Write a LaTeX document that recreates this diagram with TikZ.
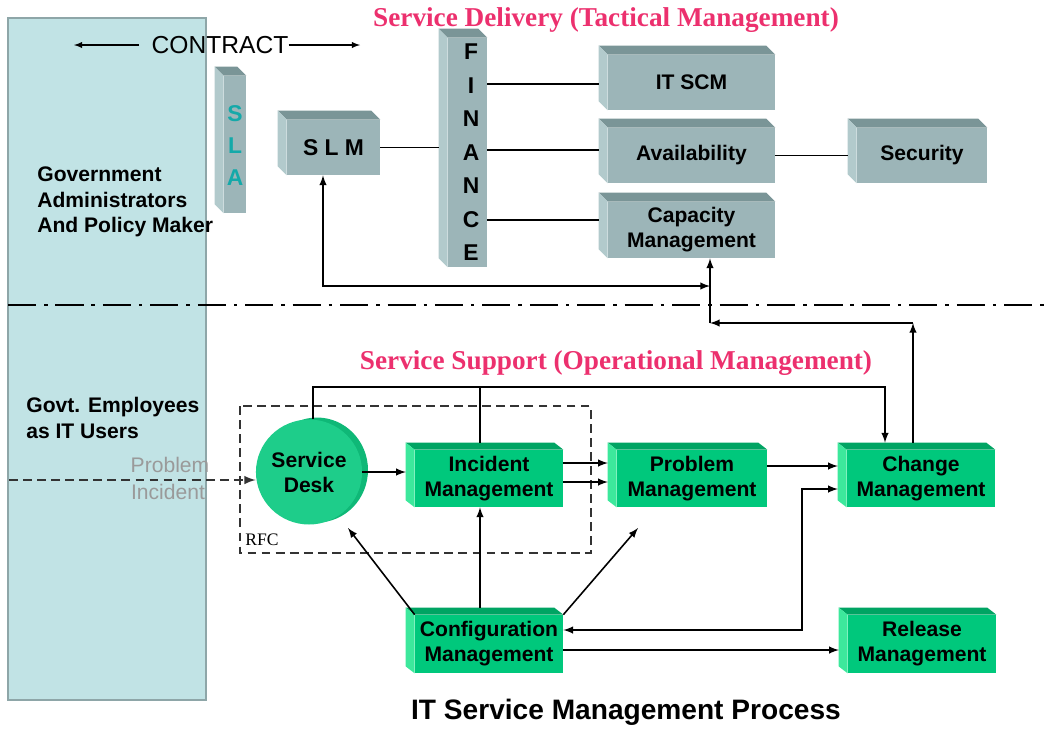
\documentclass[tikz,border=0pt]{standalone}
\usepackage{fontspec}
\setmainfont{Liberation Sans}
\newfontfamily\serifface{Liberation Serif}
\usetikzlibrary{shapes.geometric}
\usetikzlibrary{calc}

\definecolor{panelfill}{HTML}{C1E3E5}
\definecolor{paneledge}{HTML}{8EA6A8}
\definecolor{grayfront}{HTML}{9CB5B8}
\definecolor{graytop}{HTML}{7A9597}
\definecolor{grayside}{HTML}{B2CACC}
\definecolor{greenfront}{HTML}{00C87C}
\definecolor{greentop}{HTML}{00A463}
\definecolor{greenside}{HTML}{3DE89C}
\definecolor{deskfront}{HTML}{1ECD8A}
\definecolor{deskback}{HTML}{0FB877}
\definecolor{titlepink}{HTML}{EC306E}
\definecolor{slateal}{HTML}{14A9A9}
\definecolor{hintgray}{HTML}{9A9A9A}

\tikzset{
  grayblock/.style={fill=grayfront, inner sep=0pt, align=center, font=\bfseries\fontsize{12}{14.2}\selectfont},
  greenblock/.style={fill=greenfront, inner sep=0pt, align=center, font=\bfseries\fontsize{12}{14.2}\selectfont},
  finletter/.style={font=\bfseries\fontsize{13}{15}\selectfont, inner sep=0pt},
  slaletter/.style={font=\bfseries\fontsize{13}{15}\selectfont, text=slateal, inner sep=0pt},
  sectitle/.style={text=titlepink, font=\serifface\bfseries\fontsize{15.5}{18}\selectfont},
  sidetext/.style={anchor=west, align=left, inner sep=0pt, font=\bfseries\fontsize{12}{14.5}\selectfont},
  hint/.style={text=hintgray, inner sep=0pt, font=\fontsize{12}{14}\selectfont},
  conn/.style={line width=0.9pt, >=latex},
  dashline/.style={line width=1.2pt, draw=black!80, dash pattern=on 5pt off 3pt},
}

\begin{document}
\begin{tikzpicture}[x=0.02cm, y=-0.02cm]
        \useasboundingbox (0,0) rectangle (1050,728);
        \draw[fill=panelfill, draw=paneledge, line width=0.8pt] (8,18) rectangle (206,700);

        \node[sidetext] (admin) at (37,202) {Government\\Administrators\\And Policy Maker};
        \node[sidetext] (users) at (26,418) {Govt. Employees\\as IT Users};

        \node[inner sep=0pt, font=\fontsize{14}{16}\selectfont] (contract) at (220,45) {CONTRACT};
        \coordinate (cleft) at (74,45);
        \coordinate (cright) at (360,45);
        \draw[conn, line width=0.6pt, ->] ([xshift=-7pt]contract.west) -- (cleft);
        \draw[conn, line width=0.6pt, ->] (contract.east) -- (cright);

        \node[sectitle] (delivery) at (606,20) {Service Delivery (Tactical Management)};
        \node[sectitle] (support) at (616,363) {Service Support (Operational Management)};
        \node[inner sep=0pt, font=\bfseries\fontsize{16}{18}\selectfont] (process) at (626,712) {IT Service Management Process};

        % tactical level
        \node[grayblock, minimum width=0.44cm, minimum height=2.74cm] (sla) at (235,144.5) {};
        \node[grayblock, minimum width=1.86cm, minimum height=1.1cm, font=\bfseries\fontsize{13}{15}\selectfont] (slm) at (333.5,147.5) {S L M};
        \node[grayblock, minimum width=0.78cm, minimum height=4.58cm] (fin) at (467.5,152.5) {};
        \node[grayblock, minimum width=3.34cm, minimum height=1.1cm] (itscm) at (691.5,82.5) {IT SCM};
        \node[grayblock, minimum width=3.34cm, minimum height=1.1cm] (avail) at (691.5,155.5) {Availability};
        \node[grayblock, minimum width=3.34cm, minimum height=1.12cm] (capa) at (691.5,230) {Capacity\\Management};
        \node[grayblock, minimum width=2.6cm, minimum height=1.1cm] (secu) at (922,155.5) {Security};

        \foreach \n in {sla,slm,fin,itscm,avail,capa,secu} {
            \fill[graytop] (\n.north west) -- ++(-9,-9) -- ($(\n.north east)+(-9,-9)$) -- (\n.north east) -- cycle;
            \fill[grayside] (\n.north west) -- ++(-9,-9) -- ($(\n.south west)+(-9,-9)$) -- (\n.south west) -- cycle;
        }
        \foreach \ch [count=\i] in {F,I,N,A,N,C,E}
            \node[finletter] (fin\i) at (471,{52+33.5*(\i-1)}) {\ch};
        \foreach \ch [count=\i] in {S,L,A}
            \node[slaletter] (sla\i) at (235,{114+32*(\i-1)}) {\ch};

        % operational level
        \fill[deskback] (317,470) ellipse [x radius=1.02cm, y radius=1.05cm];
        \node[ellipse, fill=deskfront, minimum width=2.04cm, minimum height=2.1cm, inner sep=0pt, align=center, font=\bfseries\fontsize{12}{14.2}\selectfont] (desk) at (309,472) {Service\\Desk};
        \node[greenblock, minimum width=2.96cm, minimum height=1.14cm] (inc) at (489,478.5) {Incident\\Management};
        \node[greenblock, minimum width=3cm, minimum height=1.14cm] (prob) at (692,478.5) {Problem\\Management};
        \node[greenblock, minimum width=2.96cm, minimum height=1.14cm] (chg) at (921,478.5) {Change\\Management};
        \node[greenblock, minimum width=2.96cm, minimum height=1.16cm] (conf) at (489,644) {Configuration\\Management};
        \node[greenblock, minimum width=2.96cm, minimum height=1.16cm] (rel) at (922,644) {Release\\Management};

        \foreach \n in {inc,prob,chg,conf,rel} {
            \fill[greentop] (\n.north west) -- ++(-9,-7) -- ($(\n.north east)+(-9,-7)$) -- (\n.north east) -- cycle;
            \fill[greenside] (\n.north west) -- ++(-9,-7) -- ($(\n.south west)+(-9,-7)$) -- (\n.south west) -- cycle;
        }

        \draw[line width=1.4pt, dash pattern=on 16pt off 4.5pt on 2pt off 4.5pt] (8,305) -- (1050,305);
        \draw[dashline] (240,406) rectangle (591,553);
        \node[anchor=west, inner sep=0pt, font=\serifface\fontsize{10}{12}\selectfont] (rfc) at (245,540) {RFC};
        \node[hint] (problbl) at (170,465) {Problem};
        \node[hint] (inclbl) at (168,492) {Incident};

        % connectors, tactical
        \draw[conn, shorten >=5pt] (slm.east) -- (slm.east -| fin.west);
        \draw[conn, shorten >=5pt] (fin.east |- 0,84) -- (itscm.west |- 0,84);
        \draw[conn, shorten >=5pt] (fin.east |- 0,150) -- (avail.west |- 0,150);
        \draw[conn, shorten >=5pt] (fin.east |- 0,220) -- (capa.west |- 0,220);
        \draw[conn, shorten >=5pt] (avail.east) -- (secu.west);
        \coordinate (slmjoin) at (710,286);
        \coordinate (capajoin) at (710,323);
        \coordinate (chgup) at (913,323);
        \draw[conn, <->] (slm.south -| 323,0) |- (slmjoin);
        \draw[conn, ->] (capajoin) -- (capa.south -| capajoin);
        \draw[conn, ->, shorten <=4pt] (chg.north -| chgup) -- (chgup);
        \draw[conn, ->] (chgup) -- (capajoin);

        % connectors, operational
        \coordinate (userin) at (9,480);
        \draw[conn, dashline, ->] (userin) -- (desk.west |- userin);
        \coordinate (loop) at (885,387);
        \draw[conn, ->, shorten >=4pt] (desk.north -| 313,0) |- (loop) -- (loop |- chg.north);
        \draw[conn, shorten <=4pt] (inc.north -| 480,0) -- (480,387);
        \draw[conn, ->, shorten >=5pt] (desk.east) -- (inc.west |- desk.east);
        \draw[conn, ->, shorten >=5pt] (inc.east |- 0,463) -- (prob.west |- 0,463);
        \draw[conn, ->, shorten >=5pt] (inc.east |- 0,482) -- (prob.west |- 0,482);
        \draw[conn, ->, shorten >=5pt] (prob.east |- 0,466) -- (chg.west |- 0,466);
        \coordinate (deskin) at (348,528);
        \coordinate (probin) at (638,528);
        \draw[conn, ->] (conf.north west) -- (deskin);
        \draw[conn, ->, shorten <=4pt] (conf.north -| 480,0) -- (inc.south -| 480,0);
        \draw[conn, ->] (conf.north east) -- (probin);
        \coordinate (bend) at (802,630);
        \draw[conn, <->, shorten <=5pt] (chg.west |- 0,489) -| (bend) -- (bend -| conf.east);
        \draw[conn, ->, shorten >=5pt] (conf.east |- 0,650) -- (rel.west |- 0,650);

    \end{tikzpicture}
\end{document}
